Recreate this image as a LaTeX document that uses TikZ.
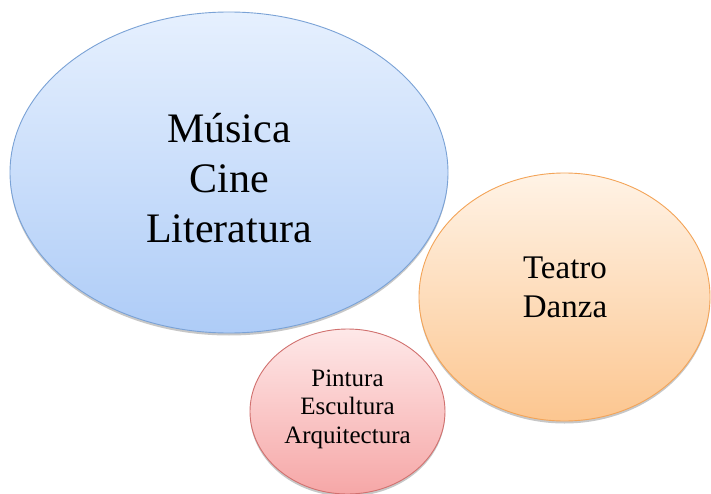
\documentclass[tikz,border=0pt]{standalone}
\usepackage{fontspec}
\setmainfont{Liberation Serif}
\usetikzlibrary{shapes.geometric,shadows}
\definecolor{blueTop}{HTML}{E6F0FE}
\definecolor{blueBot}{HTML}{AECCF7}
\definecolor{blueLine}{HTML}{7AA2D6}
\definecolor{orTop}{HTML}{FFF3E6}
\definecolor{orBot}{HTML}{FCC690}
\definecolor{orLine}{HTML}{F3A458}
\definecolor{redTop}{HTML}{FEE8E8}
\definecolor{redBot}{HTML}{F6A7A7}
\definecolor{redLine}{HTML}{D1716F}
\tikzset{
  bubble/.style={ellipse, inner sep=0pt, line width=0.9pt,
    drop shadow={shadow xshift=0pt, shadow yshift=-2.5pt, opacity=0.22, fill=black}},
  bubbletext/.style={align=center, text=black, inner sep=0pt}
}
\begin{document}
\begin{tikzpicture}[x=1pt,y=-1pt]
\useasboundingbox (0,0) rectangle (711,494);
\fill[white] (0,0) rectangle (711,494);
\node[bubble, draw=blueLine, top color=blueTop, bottom color=blueBot,
      minimum width=438pt, minimum height=321pt] (musica) at (229,172.5) {};
\node[bubble, draw=orLine, top color=orTop, bottom color=orBot,
      minimum width=291pt, minimum height=248pt] (teatro) at (564.5,297) {};
\node[bubble, draw=redLine, top color=redTop, bottom color=redBot,
      minimum width=195pt, minimum height=165pt] (pintura) at (347.5,411.5) {};
\node[bubbletext, font=\fontsize{42}{50}\selectfont] (musicaText) at (229,178) {Música\\Cine\\Literatura};
\node[bubbletext, font=\fontsize{33}{39}\selectfont] (teatroText) at (565,287.5) {Teatro\\Danza};
\node[bubbletext, font=\fontsize{25}{28.5}\selectfont] (pinturaText) at (347.5,409) {Pintura\\Escultura\\Arquitectura};
\end{tikzpicture}
\end{document}
